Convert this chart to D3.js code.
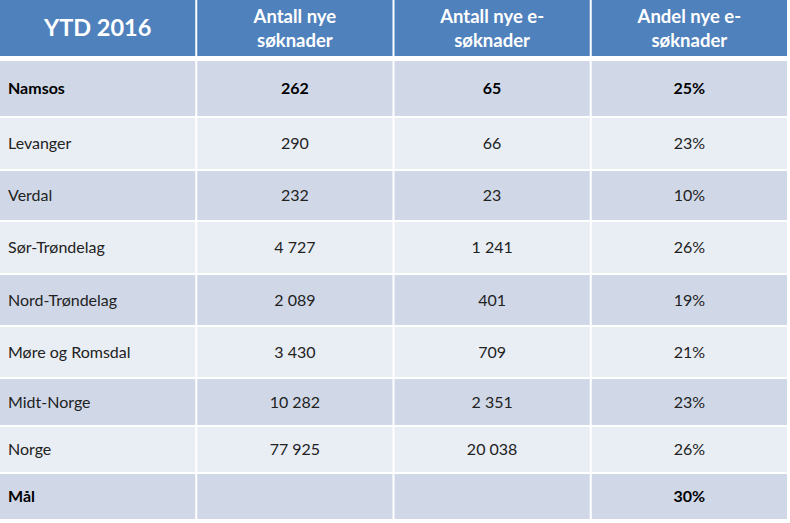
<!DOCTYPE html>
<html>
<head>
<meta charset="utf-8">
<script src="https://cdn.jsdelivr.net/npm/d3@7"></script>
<style>
  body { margin: 0; background: #fff; }
  text { font-family: Lato, "Open Sans", sans-serif; }
</style>
</head>
<body>
<div id="table"></div>
<script>
// Data
const title = "YTD 2016";
const headers = [["Antall nye", "søknader"], ["Antall nye e-", "søknader"], ["Andel nye e-", "søknader"]];
const regions = ["Namsos", "Levanger", "Verdal", "Sør-Trøndelag", "Nord-Trøndelag", "Møre og Romsdal", "Midt-Norge", "Norge", "Mål"];
const nyeSoknader = [262, 290, 232, 4727, 2089, 3430, 10282, 77925, null];
const nyeESoknader = [65, 66, 23, 1241, 401, 709, 2351, 20038, null];
const andelE = [25, 23, 10, 26, 19, 21, 23, 26, 30];
const boldRows = ["Namsos", "Mål"];

// Layout
const width = 790;
const height = 523;
const tableWidth = 787;
const headerHeight = 56;
const bodyTop = 61;
const rowWeights = [57, 53, 51, 53, 52, 52, 48, 47, 47];
const gap = 2;

const no = d3.formatLocale({ decimal: ",", thousands: "\u00a0", grouping: [3], currency: ["", " kr"] });
const fmtInt = no.format(",d");

const x = d3.scaleBand().domain(d3.range(4)).range([0, tableWidth]).paddingInner(0.01);

const cum = [0, ...d3.cumsum(rowWeights)];
const y = d3.scaleLinear().domain([0, cum[cum.length - 1]]).range([bodyTop, height - 2]);

const svg = d3.select('#table').append('svg')
    .attr('width', width)
    .attr('height', height);

// Header row
const headG = svg.append('g');
headG.selectAll('rect')
    .data(d3.range(4))
    .join('rect')
    .attr('x', d => x(d))
    .attr('y', 0)
    .attr('width', x.bandwidth())
    .attr('height', headerHeight)
    .attr('fill', '#4f81bd');

headG.append('text')
    .attr('x', x(0) + x.bandwidth() / 2)
    .attr('y', 28)
    .attr('dy', '0.36em')
    .attr('text-anchor', 'middle')
    .attr('fill', '#fff')
    .attr('font-weight', 'bold')
    .attr('font-size', 23.5)
    .text(title);

headers.forEach((lines, i) => {
    const t = headG.append('text')
        .attr('text-anchor', 'middle')
        .attr('fill', '#fff')
        .attr('font-weight', 'bold')
        .attr('font-size', 18.5);
    lines.forEach((line, j) => {
        t.append('tspan')
            .attr('x', x(i + 1) + x.bandwidth() / 2)
            .attr('y', 23 + j * 24)
            .text(line);
    });
});

// Body rows
const rows = regions.map((r, i) => ({
    cells: [r,
        nyeSoknader[i] == null ? "" : fmtInt(nyeSoknader[i]),
        nyeESoknader[i] == null ? "" : fmtInt(nyeESoknader[i]),
        andelE[i] + "%"],
    bold: boldRows.includes(r),
    top: y(cum[i]),
    bottom: y(cum[i + 1]) - gap,
    fill: i % 2 === 0 ? '#d0d8e8' : '#e9edf4'
}));

const rowG = svg.selectAll('g.row')
    .data(rows)
    .join('g')
    .attr('class', 'row');

rowG.selectAll('rect')
    .data(d => d.cells.map((c, j) => ({ ...d, j })))
    .join('rect')
    .attr('x', d => x(d.j))
    .attr('y', d => d.top)
    .attr('width', x.bandwidth())
    .attr('height', d => d.bottom - d.top)
    .attr('fill', d => d.fill);

rowG.selectAll('text')
    .data(d => d.cells.map((c, j) => ({ c, j, d })))
    .join('text')
    .attr('x', e => e.j === 0 ? x(0) + 8 : x(e.j) + x.bandwidth() / 2)
    .attr('y', e => (e.d.top + e.d.bottom) / 2)
    .attr('dy', '0.36em')
    .attr('text-anchor', e => e.j === 0 ? 'start' : 'middle')
    .attr('font-size', 16)
    .attr('font-weight', e => e.d.bold ? 'bold' : 'normal')
    .attr('fill', e => e.d.bold ? '#000' : '#222')
    .text(e => e.c);
</script>
</body>
</html>
